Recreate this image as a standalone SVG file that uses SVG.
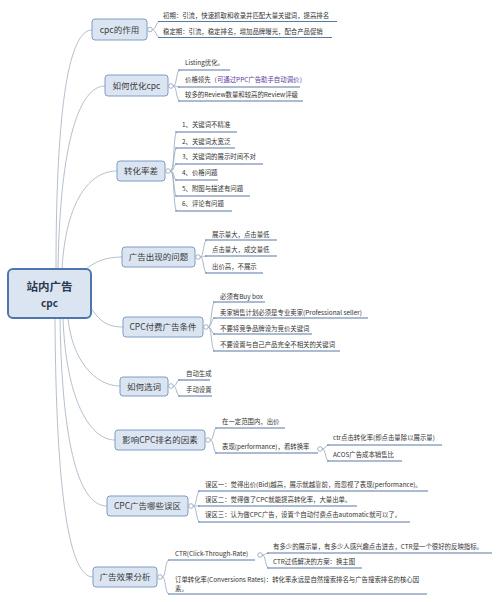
<svg xmlns="http://www.w3.org/2000/svg" width="500" height="602" viewBox="0 0 500 602">
<style>
.bg{fill:#ffffff}
.root{fill:#dbe5f2;stroke:#4d76ae;stroke-width:2}
.node{fill:#dbe5f2;stroke:#7f9cc5;stroke-width:1}
.rt{font-family:"Noto Sans CJK SC","Noto Sans",sans-serif;font-weight:bold;fill:#2b3a4f;text-anchor:middle}
.nt{font-family:"Noto Sans CJK SC","Noto Sans",sans-serif;font-size:8.5px;fill:#3a3a3a;text-anchor:middle}
.lt{font-family:"Noto Sans CJK SC","Noto Sans",sans-serif;font-size:6.4px;fill:#333333}
.pu{fill:#5b3a9e}
.con{fill:none;stroke:#b6c0cc;stroke-width:1}
.br{fill:none;stroke:#9fafc4;stroke-width:0.9}
.ul{fill:none;stroke:#5878a6;stroke-width:1.1}
.dot{fill:#ffffff;stroke:#8fa0b8;stroke-width:0.8}
</style>
<rect class="bg" x="0" y="0" width="500" height="602"/>

<g id="connectors">
<path class="con" d="M56 269 C56 100 70 30 92 30"/>
<path class="con" d="M58 269 C60 140 80 86 105 86"/>
<path class="con" d="M62 269 C66 200 90 171 117 171"/>
<path class="con" d="M86 269 C95 262 105 257 122 257"/>
<path class="con" d="M91 308 C100 322 108 327 123 327"/>
<path class="con" d="M68 318 C72 360 95 386 120 386"/>
<path class="con" d="M63 318 C66 400 90 440 115 440"/>
<path class="con" d="M60 318 C62 450 80 506 107 506"/>
<path class="con" d="M55 318 C56 500 70 577 93 577"/>
</g>

<g id="root">
<rect class="root" x="8" y="269" width="83" height="49" rx="5"/>
<text class="rt" x="49.5" y="291" font-size="11.5px">站内广告</text>
<text class="rt" x="49.5" y="307" font-size="10px">cpc</text>
</g>

<g id="n1">
<rect class="node" x="92" y="19" width="55" height="21" rx="3"/>
<text class="nt" x="119.5" y="32.5">cpc的作用</text>
<circle class="dot" cx="150" cy="29.5" r="2.3"/>
<path class="br" d="M152.3 29.5 C156 29.5 156 21.5 160 21.5"/>
<path class="br" d="M152.3 29.5 C156 29.5 156 37.5 160 37.5"/>
<path class="ul" d="M158 21.5 H337"/>
<path class="ul" d="M158 37.5 H332"/>
<text class="lt" x="163" y="17.8">初期：引流，快速抓取和收录并匹配大量关键词，提高排名</text>
<text class="lt" x="163" y="33.8">稳定期：引流，稳定排名，增加品牌曝光，配合产品促销</text>
</g>

<g id="n2">
<rect class="node" x="105" y="75" width="63" height="21" rx="3"/>
<text class="nt" x="136.5" y="88.5">如何优化cpc</text>
<circle class="dot" cx="171" cy="86" r="2.3"/>
<path class="br" d="M173.3 86 C177 86 176 70 180 70"/>
<path class="br" d="M173.3 86 C177 86 176 87 180 87"/>
<path class="br" d="M173.3 86 C177 86 176 101 180 101"/>
<path class="ul" d="M178 70 H230"/>
<path class="ul" d="M178 87 H300"/>
<path class="ul" d="M178 101 H303"/>
<text class="lt" x="185" y="65.3">Listing优化。</text>
<text class="lt" x="185" y="82.3">价格领先（<tspan class="pu">可通过PPC广告助手自动调价）</tspan></text>
<text class="lt" x="185" y="97.3">较多的Review数量和较高的Review评级</text>
</g>

<g id="n3">
<rect class="node" x="117" y="161" width="48" height="20" rx="3"/>
<text class="nt" x="141" y="174">转化率差</text>
<circle class="dot" cx="168" cy="171" r="2.3"/>
<path class="br" d="M170.3 171 C175 171 173 132 177 132"/>
<path class="br" d="M170.3 171 C175 171 173 148 177 148"/>
<path class="br" d="M170.3 171 C175 171 173 164 177 164"/>
<path class="br" d="M170.3 171 C175 171 173 180 177 180"/>
<path class="br" d="M170.3 171 C175 171 173 196 177 196"/>
<path class="br" d="M170.3 171 C175 171 173 211 177 211"/>
<path class="ul" d="M175 132 H237"/>
<path class="ul" d="M175 148 H235"/>
<path class="ul" d="M175 164 H263"/>
<path class="ul" d="M175 180 H218"/>
<path class="ul" d="M175 196 H250"/>
<path class="ul" d="M175 211 H232"/>
<text class="lt" x="182" y="127.3">1、关键词不精准</text>
<text class="lt" x="182" y="144.3">2、关键词太宽泛</text>
<text class="lt" x="182" y="159.3">3、关键词的展示时间不对</text>
<text class="lt" x="182" y="175.3">4、价格问题</text>
<text class="lt" x="182" y="191.3">5、附图与描述有问题</text>
<text class="lt" x="182" y="206.3">6、评论有问题</text>
</g>

<g id="n4">
<rect class="node" x="122" y="247" width="73" height="20" rx="3"/>
<text class="nt" x="158.5" y="260">广告出现的问题</text>
<circle class="dot" cx="198" cy="257" r="2.3"/>
<path class="br" d="M200.3 257 C204 257 203 240 207 240"/>
<path class="br" d="M200.3 257 C204 257 203 256 207 256"/>
<path class="br" d="M200.3 257 C204 257 203 273 207 273"/>
<path class="ul" d="M205 240 H277"/>
<path class="ul" d="M205 256 H277"/>
<path class="ul" d="M205 273 H263"/>
<text class="lt" x="212" y="237.3">展示量大，点击量低</text>
<text class="lt" x="212" y="252.3">点击量大，成交量低</text>
<text class="lt" x="212" y="269.3">出价高，不展示</text>
</g>

<g id="n5">
<rect class="node" x="123" y="317" width="80" height="20" rx="3"/>
<text class="nt" x="163" y="330">CPC付费广告条件</text>
<circle class="dot" cx="206" cy="327" r="2.3"/>
<path class="br" d="M208.3 327 C212 327 211 302 215 302"/>
<path class="br" d="M208.3 327 C212 327 211 318 215 318"/>
<path class="br" d="M208.3 327 C212 327 211 334 215 334"/>
<path class="br" d="M208.3 327 C212 327 211 351 215 351"/>
<path class="ul" d="M213 302 H265"/>
<path class="ul" d="M213 318 H368"/>
<path class="ul" d="M213 334 H312"/>
<path class="ul" d="M213 351 H340"/>
<text class="lt" x="220" y="299.3">必须有Buy box</text>
<text class="lt" x="220" y="315.3">卖家销售计划必须是专业卖家(Professional seller)</text>
<text class="lt" x="220" y="331.3">不要将竞争品牌设为竞价关键词</text>
<text class="lt" x="220" y="347.3">不要设置与自己产品完全不相关的关键词</text>
</g>

<g id="n6">
<rect class="node" x="120" y="377" width="48" height="19" rx="3"/>
<text class="nt" x="144" y="389.5">如何选词</text>
<circle class="dot" cx="171" cy="386" r="2.3"/>
<path class="br" d="M173.3 386 C177 386 176 380 180 380"/>
<path class="br" d="M173.3 386 C177 386 176 396 180 396"/>
<path class="ul" d="M178 380 H210"/>
<path class="ul" d="M178 396 H212"/>
<text class="lt" x="186" y="376.3">自动生成</text>
<text class="lt" x="186" y="392.3">手动设置</text>
</g>

<g id="n7">
<rect class="node" x="115" y="430" width="90" height="20" rx="3"/>
<text class="nt" x="160" y="443">影响CPC排名的因素</text>
<circle class="dot" cx="208" cy="440" r="2.3"/>
<path class="br" d="M210.3 440 C214 440 213 428 217 428"/>
<path class="br" d="M210.3 440 C214 440 213 453 217 453"/>
<path class="ul" d="M215 428 H285"/>
<path class="ul" d="M215 453 H318"/>
<text class="lt" x="222" y="424.3">在一定范围内，出价</text>
<text class="lt" x="222" y="449.3">表现(performance)，看转换率</text>
<circle class="dot" cx="320" cy="449" r="2.3"/>
<path class="br" d="M322.3 449 C326 449 325 445 329 445"/>
<path class="br" d="M322.3 449 C326 449 325 461 329 461"/>
<path class="ul" d="M327 445 H442"/>
<path class="ul" d="M327 461 H402"/>
<text class="lt" x="333" y="440.3">ctr点击转化率(即点击量除以展示量)</text>
<text class="lt" x="333" y="457.3">ACOS广告成本销售比</text>
</g>

<g id="n8">
<rect class="node" x="107" y="496" width="81" height="20" rx="3"/>
<text class="nt" x="147.5" y="509">CPC广告哪些误区</text>
<circle class="dot" cx="191" cy="506" r="2.3"/>
<path class="br" d="M193.3 506 C197 506 196 491 200 491"/>
<path class="br" d="M193.3 506 C197 506 196 506 200 506"/>
<path class="br" d="M193.3 506 C197 506 196 522 200 522"/>
<path class="ul" d="M198 491 H428"/>
<path class="ul" d="M198 506 H357"/>
<path class="ul" d="M198 522 H410"/>
<text class="lt" x="205" y="487.3">误区一：觉得出价(Bid)越高，展示就越靠前，而忽视了表现(performance)。</text>
<text class="lt" x="205" y="502.3">误区二：觉得做了CPC就能提高转化率，大量出单。</text>
<text class="lt" x="205" y="517.3">误区三：认为做CPC广告，设置个自动付费点击automatic就可以了。</text>
</g>

<g id="n9">
<rect class="node" x="93" y="567" width="64" height="20" rx="3"/>
<text class="nt" x="125" y="580">广告效果分析</text>
<circle class="dot" cx="160" cy="577" r="2.3"/>
<path class="br" d="M162.3 577 C166 577 165 560 169 560"/>
<path class="br" d="M162.3 577 C166 577 165 594 169 594"/>
<path class="ul" d="M168 560 H255"/>
<path class="ul" d="M168 594 H427"/>
<text class="lt" x="175" y="556.3">CTR(Click-Through-Rate)</text>
<text class="lt" x="175" y="582.3">订单转化率(Conversions Rates)：转化率永远是自然搜索排名与广告搜索排名的核心因</text>
<text class="lt" x="175" y="590.5">素。</text>
<circle class="dot" cx="260" cy="555" r="2.3"/>
<path class="br" d="M262.3 555 C266 555 265 553 269 553"/>
<path class="br" d="M262.3 555 C266 555 265 568 269 568"/>
<path class="ul" d="M267 553 H492"/>
<path class="ul" d="M267 568 H362"/>
<text class="lt" x="273" y="549.3">有多少的展示量，有多少人感兴趣点击进去，CTR是一个很好的反映指标。</text>
<text class="lt" x="273" y="564.3">CTR过低解决的方案：换主图</text>
</g>
</svg>
